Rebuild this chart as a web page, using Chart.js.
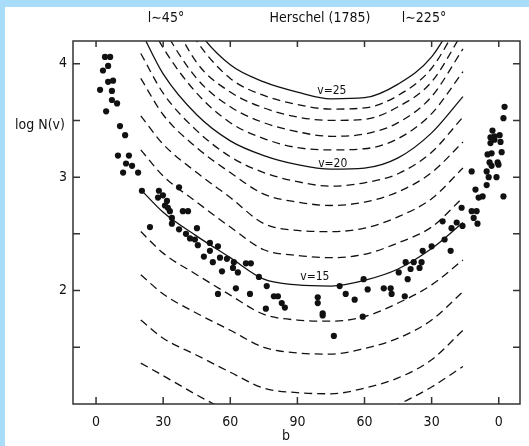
<!DOCTYPE html>
<html>
<head>
<meta charset="utf-8">
<script src="https://cdn.jsdelivr.net/npm/chart.js@4.4.0/dist/chart.umd.min.js"></script>
<style>
  html, body { margin: 0; padding: 0; width: 529px; height: 446px; overflow: hidden; background: #a8dcf8; }
  #wrap { position: absolute; left: 5px; top: 7px; width: 524px; height: 439px; background: #fff; }
</style>
</head>
<body>
<div id="wrap"><canvas id="myChart" width="524" height="439"></canvas></div>
<script>
const canvas = document.getElementById("myChart");
const ctx = canvas.getContext("2d");
const FONT = '"DejaVu Sans Condensed", "DejaVu Sans", sans-serif';

// axis ticks (b runs 0..90..0, drawn as 0..180)
const xTicks = [0, 30, 60, 90, 120, 150, 180];
const xTickLabels = ["0", "30", "60", "90", "60", "30", "0"];
const yTicks = [1.5, 2, 2.5, 3, 3.5, 4];
const yTickLabels = ["", "2", "", "3", "", "4"];

// model curves, log N(v) at these b
const curveB = [20, 30, 45, 60, 75, 90, 105, 120, 135, 150, 164];
const v11 = [1.36, 1.25, 1.08, 0.93, 0.82, 0.78, 0.77, 0.81, 0.99, 1.15, 1.33];
const v12 = [1.74, 1.58, 1.43, 1.28, 1.14, 1.10, 1.09, 1.14, 1.23, 1.39, 1.65];
const v13 = [2.14, 1.97, 1.80, 1.65, 1.50, 1.45, 1.44, 1.49, 1.58, 1.74, 1.99];
const v14 = [2.52, 2.33, 2.14, 1.96, 1.79, 1.74, 1.73, 1.77, 1.89, 2.05, 2.27];
const v15 = [2.89, 2.69, 2.48, 2.29, 2.10, 2.05, 2.04, 2.09, 2.19, 2.37, 2.60];
const v16 = [3.24, 3.01, 2.78, 2.56, 2.36, 2.31, 2.29, 2.32, 2.42, 2.56, 2.82];
const v17 = [3.54, 3.29, 3.04, 2.82, 2.59, 2.53, 2.52, 2.55, 2.65, 2.81, 3.08];
const v18 = [3.87, 3.55, 3.26, 3.04, 2.85, 2.78, 2.75, 2.78, 2.87, 3.04, 3.31];
const v19 = [4.09, 3.74, 3.41, 3.18, 3.04, 2.96, 2.92, 2.95, 3.03, 3.22, 3.53];
const v20 = [4.29, 3.91, 3.55, 3.32, 3.19, 3.11, 3.07, 3.08, 3.17, 3.39, 3.71];
const v21 = [4.51, 4.14, 3.74, 3.48, 3.34, 3.26, 3.24, 3.25, 3.34, 3.56, 3.93];
const v22 = [4.73, 4.32, 3.87, 3.62, 3.48, 3.40, 3.36, 3.38, 3.48, 3.71, 4.13];
const v23 = [5.00, 4.56, 4.01, 3.75, 3.61, 3.53, 3.50, 3.51, 3.62, 3.84, 4.28];
const v24 = [5.17, 4.73, 4.20, 3.87, 3.72, 3.64, 3.60, 3.61, 3.72, 3.96, 4.42];
const v25 = [5.35, 4.91, 4.31, 3.99, 3.84, 3.75, 3.69, 3.70, 3.82, 4.06, 4.51];
const curves = [[11, v11], [12, v12], [13, v13], [14, v14], [15, v15], [16, v16], [17, v17],
  [18, v18], [19, v19], [20, v20], [21, v21], [22, v22], [23, v23], [24, v24], [25, v25]];
const solidV = [15, 20, 25];

// curve labels
const labelText = ["v=25", "v=20", "v=15"];
const labelB = [105.4, 105.8, 97.8];
const labelLogN = [3.76, 3.12, 2.12];

// Herschel gauges
const obsB = [4.0, 6.3, 3.1, 5.4, 5.4, 7.6, 1.8, 7.1, 7.1, 9.4, 4.5, 10.7, 13.0, 9.8, 14.7, 13.4, 16.1, 12.1, 18.8, 20.5,
  28.1, 37.1, 27.7, 29.9, 31.7, 30.8, 32.1, 33.0, 38.8, 41.1, 33.9, 24.1, 33.9, 37.1, 45.1, 40.2, 42.0, 44.2, 45.5, 50.9,
  54.5, 50.9, 48.2, 52.2, 55.4, 58.5, 61.6, 56.3, 61.2, 63.4, 67.0, 69.2, 72.8, 62.5, 54.5, 68.8, 76.3, 79.5, 81.3, 83.0,
  84.4, 75.9, 99.1, 99.1, 101.3, 101.3, 106.3, 108.9, 111.6, 115.6, 119.6, 121.4, 119.2, 128.6, 131.7, 132.1, 135.3, 138.0, 138.4, 139.3,
  140.6, 142.0, 144.6, 145.5, 146.0, 150.0, 155.8, 158.5, 154.9, 158.9, 161.2, 163.8, 163.4, 167.9, 170.1, 168.8, 170.5, 169.6, 171.0, 172.8,
  182.1, 174.6, 167.9, 174.6, 175.5, 179.0, 175.9, 179.5, 176.8, 179.9, 175.0, 176.8, 181.3, 176.3, 180.8, 178.1, 176.3, 178.1, 180.4, 177.2,
  182.1, 182.6];
const obsLogN = [4.06, 4.06, 3.94, 3.98, 3.84, 3.85, 3.77, 3.76, 3.68, 3.65, 3.58, 3.45, 3.37, 3.19, 3.19, 3.12, 3.10, 3.04, 3.04, 2.88,
  2.88, 2.91, 2.82, 2.84, 2.79, 2.75, 2.73, 2.70, 2.70, 2.70, 2.64, 2.56, 2.59, 2.54, 2.55, 2.50, 2.46, 2.45, 2.40, 2.42,
  2.39, 2.35, 2.30, 2.25, 2.29, 2.28, 2.25, 2.17, 2.20, 2.16, 2.24, 2.24, 2.12, 2.02, 1.97, 1.97, 2.04, 1.95, 1.95, 1.89,
  1.85, 1.84, 1.94, 1.89, 1.80, 1.78, 1.60, 2.04, 1.97, 1.92, 2.10, 2.01, 1.77, 2.02, 2.02, 1.97, 2.16, 1.95, 2.25, 2.10,
  2.19, 2.25, 2.20, 2.25, 2.35, 2.39, 2.45, 2.35, 2.61, 2.55, 2.60, 2.57, 2.73, 2.70, 2.70, 2.64, 2.59, 2.89, 2.82, 2.83,
  2.83, 2.93, 3.05, 3.05, 3.00, 3.00, 3.13, 3.13, 3.10, 3.11, 3.20, 3.21, 3.22, 3.30, 3.31, 3.33, 3.35, 3.36, 3.37, 3.41,
  3.52, 3.62];

const datasets = curves.map(([v, vals]) => ({
  label: "v=" + v,
  data: curveB.map((b, i) => ({ x: b, y: vals[i] })),
  showLine: true,
  borderColor: "#111",
  borderWidth: 1.3,
  borderDash: solidV.includes(v) ? [] : [8, 5],
  pointRadius: 0,
  cubicInterpolationMode: "monotone",
}));
datasets.push({
  label: "Herschel (1785)",
  data: obsB.map((b, i) => ({ x: b, y: obsLogN[i] })),
  pointRadius: 3.1,
  pointBackgroundColor: "#111",
  pointBorderWidth: 0,
  showLine: false,
});

// frame, inward ticks and the free texts
const framePlugin = {
  id: "frame",
  afterDraw(chart) {
    const c = chart.ctx;
    const a = chart.chartArea;
    const x = chart.scales.x;
    const y = chart.scales.y;
    c.save();
    c.strokeStyle = "#333";
    c.lineWidth = 1.5;
    c.strokeRect(a.left, a.top, a.right - a.left, a.bottom - a.top);
    c.beginPath();
    x.ticks.forEach(t => {
      const px = x.getPixelForValue(t.value);
      c.moveTo(px, a.bottom); c.lineTo(px, a.bottom - 7);
      c.moveTo(px, a.top); c.lineTo(px, a.top + 6);
    });
    y.ticks.forEach(t => {
      const py = y.getPixelForValue(t.value);
      c.moveTo(a.left, py); c.lineTo(a.left + 7, py);
      c.moveTo(a.right, py); c.lineTo(a.right - 7, py);
    });
    c.stroke();

    c.fillStyle = "#111";
    c.textBaseline = "middle";
    c.textAlign = "center";
    c.font = "14px " + FONT;
    c.fillText("l\u223C45\u00B0", 161, 11);
    c.fillText("Herschel (1785)", 315, 11);
    c.fillText("l\u223C225\u00B0", 419, 11);
    c.fillText("b", 281, 429);
    c.fillText("log N(v)", 35, y.getPixelForValue(3.46));
    c.font = "12px " + FONT;
    labelText.forEach((t, i) => {
      c.fillText(t, x.getPixelForValue(labelB[i]), y.getPixelForValue(labelLogN[i]));
    });
    c.restore();
  }
};

const chart = new Chart(ctx, {
  type: "scatter",
  data: { datasets: datasets },
  options: {
    responsive: false,
    animation: false,
    devicePixelRatio: 1,
    layout: { padding: { top: 34, right: 9, left: 0, bottom: 0 } },
    plugins: {
      legend: { display: false },
      tooltip: { enabled: false },
    },
    scales: {
      x: {
        type: "linear",
        min: -10.3,
        max: 189.5,
        grid: { display: false, tickLength: 0 },
        border: { display: false },
        afterBuildTicks: s => { s.ticks = xTicks.map(v => ({ value: v })); },
        afterFit: s => { s.height = 42; },
        ticks: {
          autoSkip: false,
          maxRotation: 0,
          padding: 10,
          color: "#111",
          font: { family: FONT, size: 14 },
          callback: (value, index) => xTickLabels[index],
        },
      },
      y: {
        type: "linear",
        min: 1.0,
        max: 4.2,
        grid: { display: false, tickLength: 0 },
        border: { display: false },
        afterBuildTicks: s => { s.ticks = yTicks.map(v => ({ value: v })); },
        afterFit: s => { s.width = 68; },
        ticks: {
          autoSkip: false,
          padding: 6,
          color: "#111",
          font: { family: FONT, size: 14 },
          callback: (value, index) => yTickLabels[index],
        },
      },
    },
  },
  plugins: [framePlugin],
});
</script>
</body>
</html>
